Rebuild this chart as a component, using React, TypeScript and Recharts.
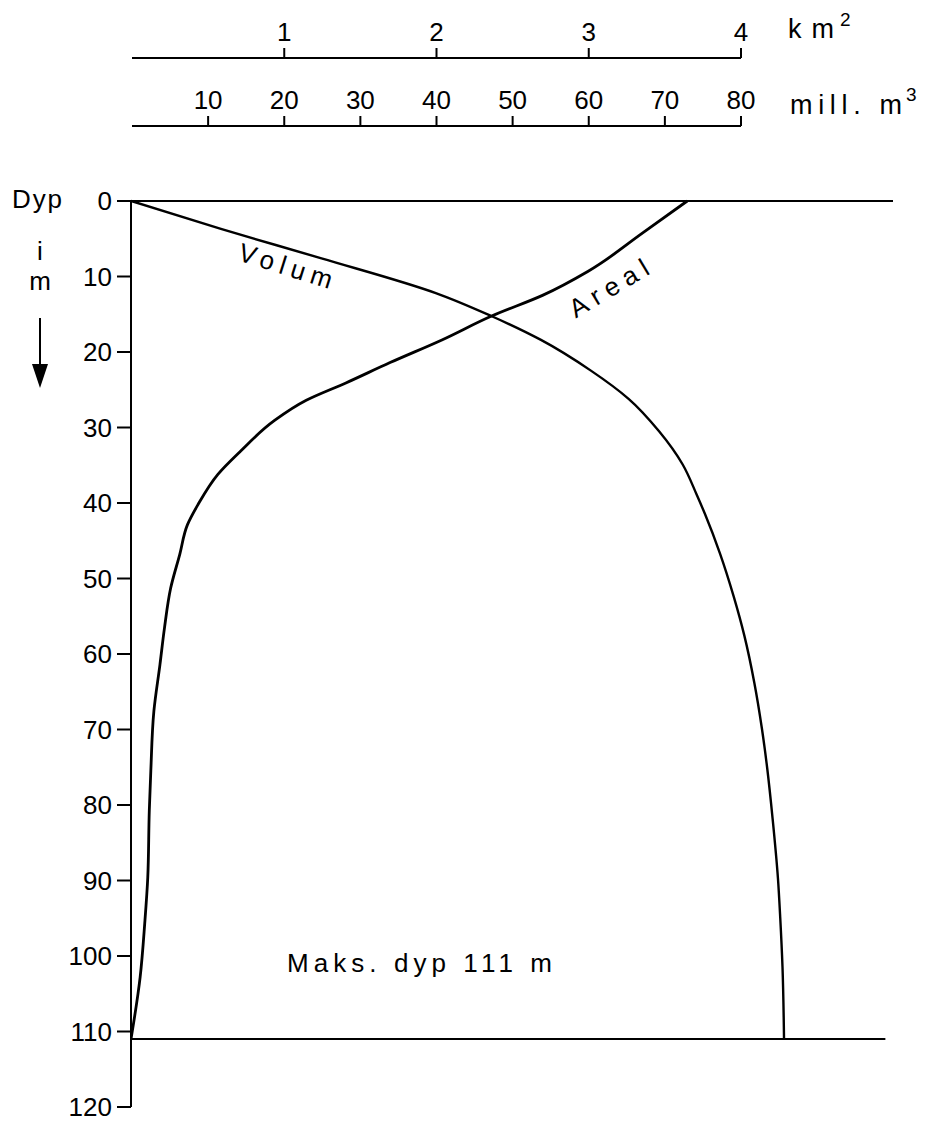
import React from 'react';
import { LineChart, Line, XAxis, YAxis, ReferenceLine } from 'recharts';

const FONT = "'Liberation Sans', Arial, sans-serif";
const INK = '#000';

// depth axis (m, downwards)
const depthTicks = [0, 10, 20, 30, 40, 50, 60, 70, 80, 90, 100, 110, 120];
const maxDepth = 111;

// top scales
const km2Ticks = [1, 2, 3, 4];
const millTicks = [10, 20, 30, 40, 50, 60, 70, 80];

// Volum curve: cumulative volume (mill. m3) against depth
const volumDepth = [0, 3.7, 7.6, 12.2, 15.2, 18.4, 22.5, 26.2, 30.5, 34.9, 38.8, 41.4, 46.7, 52.4, 57.6, 63.8, 69.9, 75.2, 81.8, 89.7, 94.9, 101.5, 111];
const volumMill = [0, 11.8, 25.0, 40.0, 47.2, 53.8, 60.4, 65.3, 69.3, 72.4, 74.2, 75.3, 77.3, 79.1, 80.5, 81.8, 82.8, 83.5, 84.2, 84.9, 85.2, 85.5, 85.7];

// Areal curve: area (km2) against depth
const arealDepth = [0, 4.2, 9.3, 12.5, 15.2, 18.4, 21.4, 24.1, 26.4, 29.1, 33.1, 36.2, 40.2, 42.9, 46.8, 51.3, 56.5, 61.4, 67.6, 75.5, 80.8, 89.6, 95.7, 102.8, 111];
const arealKm2 = [3.65, 3.36, 3.0, 2.70, 2.37, 2.04, 1.70, 1.41, 1.15, 0.94, 0.72, 0.57, 0.44, 0.37, 0.32, 0.26, 0.22, 0.19, 0.15, 0.13, 0.12, 0.11, 0.09, 0.06, 0];

const volumRows = volumDepth.map((depth, i) => ({ depth, vol: volumMill[i] }));
const arealRows = arealDepth.map((depth, i) => ({ depth, area: arealKm2[i] }));

const tickStyle = { fontSize: 26, fill: INK, fontFamily: FONT };
const lineStyle = { stroke: INK, strokeWidth: 2 };

const TopScale = ({ top, width, domain, ticks, dataKey, data }: any) => (
  <div style={{ position: 'absolute', left: 0, top }}>
    <LineChart width={width} height={54} data={data} margin={{ top: 0, right: 17, bottom: 0, left: 124 }}>
      <XAxis
        orientation="top"
        type="number"
        dataKey={dataKey}
        domain={domain}
        allowDataOverflow
        ticks={ticks}
        interval={0}
        height={50}
        tickSize={10}
        tickMargin={7}
        axisLine={lineStyle}
        tickLine={lineStyle}
        tick={{ fontSize: 26, fill: INK, fontFamily: FONT }}
      />
    </LineChart>
  </div>
);

export default function App() {
  return (
    <div style={{ position: 'relative', width: 911, height: 1115, fontFamily: FONT }}>
      <TopScale top={0} width={750} domain={[0, 4]} ticks={km2Ticks} dataKey="area" data={arealRows} />
      <TopScale top={68} width={750} domain={[0, 80]} ticks={millTicks} dataKey="vol" data={volumRows} />

      <div style={{ position: 'absolute', left: 0, top: 0 }}>
        <LineChart
          layout="vertical"
          width={911}
          height={1115}
          margin={{ top: 193, right: 26, bottom: 16, left: 0 }}
        >
          <XAxis xAxisId="vol" type="number" dataKey="vol" domain={[0, 100]} allowDataOverflow hide />
          <XAxis xAxisId="area" type="number" dataKey="area" domain={[0, 5]} allowDataOverflow hide />
          <YAxis
            type="number"
            dataKey="depth"
            domain={[0, 120]}
            ticks={depthTicks}
            interval={0}
            width={123}
            tickSize={14}
            tickMargin={5}
            axisLine={lineStyle}
            tickLine={lineStyle}
            tick={tickStyle}
          />
          <ReferenceLine xAxisId="vol" y={0} stroke={INK} strokeWidth={2} />
          <ReferenceLine
            xAxisId="vol"
            segment={[{ x: 0, y: maxDepth }, { x: 99, y: maxDepth }]}
            stroke={INK}
            strokeWidth={2}
          />
          <Line
            xAxisId="vol"
            data={volumRows}
            dataKey="vol"
            type="monotone"
            stroke={INK}
            strokeWidth={2.4}
            dot={false}
            isAnimationActive={false}
          />
          <Line
            xAxisId="area"
            data={arealRows}
            dataKey="area"
            type="monotone"
            stroke={INK}
            strokeWidth={2.8}
            dot={false}
            isAnimationActive={false}
          />
        </LineChart>
      </div>

      <svg
        width={927}
        height={1124}
        style={{ position: 'absolute', left: -8, top: -8, pointerEvents: 'none' }}
        fontFamily={FONT}
        fill={INK}
      >
        <text x={12} y={208} fontSize={26} textLength={50}>Dyp</text>
        <text x={40} y={260} fontSize={26} textAnchor="middle">i</text>
        <text x={40} y={290} fontSize={26} textAnchor="middle">m</text>
        <line x1={40} y1={318} x2={40} y2={370} stroke={INK} strokeWidth={2} />
        <polygon points="32,364 48,364 40,388" />

        <text transform="translate(285,268) rotate(17.5)" fontSize={26} textAnchor="middle" dominantBaseline="middle" textLength={97}>Volum</text>
        <text transform="translate(610,290) rotate(-31)" fontSize={26} textAnchor="middle" dominantBaseline="middle" textLength={88}>Areal</text>
        <text x={287} y={972} fontSize={26} textLength={265}>Maks. dyp 111 m</text>

        <text x={788} y={38} fontSize={27} textLength={46}>km</text>
        <text x={840} y={26} fontSize={19}>2</text>
        <text x={790} y={114} fontSize={27} textLength={112}>mill. m</text>
        <text x={906} y={101} fontSize={19}>3</text>
      </svg>
    </div>
  );
}
